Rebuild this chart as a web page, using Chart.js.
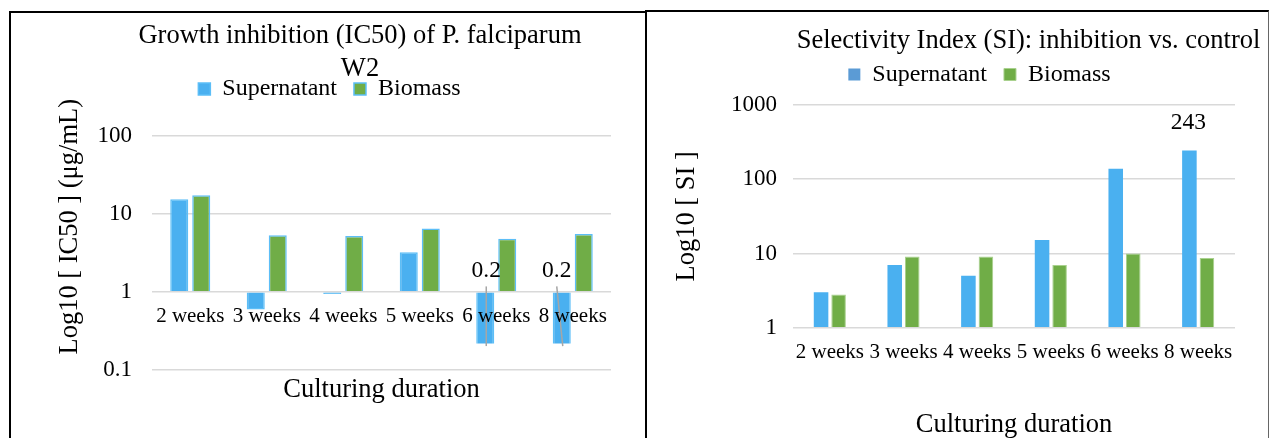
<!DOCTYPE html>
<html>
<head>
<meta charset="utf-8">
<title>IC50 and selectivity index by culturing duration</title>
<script src="https://cdn.jsdelivr.net/npm/chart.js@4.4.1/dist/chart.umd.min.js"></script>
<style>
  html, body { margin: 0; padding: 0; background: #fff; overflow: hidden; }
  .frame { position: absolute; box-sizing: border-box; }
  #leftFrame { left: 9px; top: 11px; width: 638px; height: 480px; border: 2px solid #000; }
  #rightFrame { left: 645px; top: 10px; width: 624px; height: 480px; border-top: 2px solid #000; border-left: 2px solid #000; border-right: 1px solid #666; }
  canvas { position: absolute; top: 0; }
  #ic50Chart { left: 11px; }
  #siChart { left: 648px; }
</style>
</head>
<body>
<div class="frame" id="leftFrame"></div>
<div class="frame" id="rightFrame"></div>
<canvas id="ic50Chart" width="635" height="470"></canvas>
<canvas id="siChart" width="619" height="470"></canvas>
<script>
const weeks = ['2 weeks', '3 weeks', '4 weeks', '5 weeks', '6 weeks', '8 weeks'];

// IC50 against P. falciparum W2, ug/mL
const ic50Supernatant = [15.4, 0.59, 0.93, 3.2, 0.2, 0.2];
const ic50Biomass = [17.3, 5.3, 5.2, 6.5, 4.8, 5.5];
const ic50Ticks = [0.1, 1, 10, 100];

// selectivity index (inhibition vs. control)
const siSupernatant = [3.0, 7.0, 5.0, 15.2, 138, 243];
const siBiomass = [2.8, 9.1, 9.1, 7.0, 10.0, 8.7];
const siTicks = [1, 10, 100, 1000];

const BLUE = '#4AB0F0';
const GREEN = '#70AD47';
const SERIF = "'Liberation Serif', 'Times New Roman', serif";

Chart.defaults.font.family = SERIF;
Chart.defaults.color = '#000';
Chart.defaults.animation = false;

// fixes the plot box: y axis width and top/bottom edge of the chart area
function pinPlot(width, top, bottom) {
  return scale => {
    scale.width = width;
    scale.paddingTop = top;
    scale.paddingBottom = scale.chart.height - bottom;
  };
}

// moves title / legend after layout, and the y axis title along its axis
const nudge = {
  id: 'nudge',
  afterLayout(chart, args, opts) {
    const move = (box, dx, dy) => {
      box.left += dx; box.right += dx;
      box.top += dy; box.bottom += dy;
    };
    if (opts.title) move(chart.titleBlock, opts.title[0], opts.title[1]);
    if (opts.legend) move(chart.legend, opts.legend[0], opts.legend[1]);
    if (opts.yTitle) move(chart.scales.y, 0, opts.yTitle);
  }
};

// value labels on a few bars, optionally with a leader line to the bar end
const barLabels = {
  id: 'barLabels',
  afterDatasetsDraw(chart, args, opts) {
    if (!opts.bars) return;
    const {ctx} = chart;
    const meta = chart.getDatasetMeta(opts.dataset);
    const values = chart.data.datasets[opts.dataset].data;
    ctx.save();
    ctx.font = '23.5px ' + SERIF;
    ctx.fillStyle = '#000';
    ctx.textAlign = 'center';
    ctx.textBaseline = 'middle';
    ctx.strokeStyle = '#A6A6A6';
    ctx.lineWidth = 1.5;
    opts.bars.forEach(([i, dx]) => {
      const bar = meta.data[i];
      const x = bar.x + dx;
      const y = (opts.fromBase ? bar.base : bar.y) - opts.gap;
      if (opts.leader) {
        ctx.beginPath();
        ctx.moveTo(x, y + 16);
        ctx.lineTo(bar.x + 1, bar.y);
        ctx.stroke();
      }
      ctx.fillText(String(values[i]), x, y);
    });
    ctx.restore();
  }
};

const legendLabels = { boxWidth: 12, boxHeight: 12, padding: 17, font: { size: 24 }, color: '#000' };
const gridStyle = { color: '#D9D9D9', lineWidth: 1.5, drawTicks: false };

new Chart(document.getElementById('ic50Chart'), {
  type: 'bar',
  data: {
    labels: weeks,
    datasets: [
      { label: 'Supernatant', data: ic50Supernatant, backgroundColor: BLUE, borderColor: '#5CBEF7', borderWidth: 1.5 },
      { label: 'Biomass', data: ic50Biomass, backgroundColor: GREEN, borderColor: '#5CBEF7', borderWidth: 1.5 }
    ]
  },
  options: {
    responsive: false,
    datasets: { bar: { base: 1, categoryPercentage: 0.575, barPercentage: 0.82 } },
    layout: { padding: { left: 0, right: 35, top: 0, bottom: 0 } },
    plugins: {
      title: {
        display: true,
        text: ['Growth inhibition (IC50) of P. falciparum', 'W2'],
        color: '#000',
        font: { size: 26.5, weight: 'normal', lineHeight: 1.25 },
        padding: { top: 17.4, bottom: -25.6 }
      },
      // x axis title, kept under the plot since the axis itself sits at 1
      subtitle: {
        display: true,
        position: 'bottom',
        fullSize: false,
        text: 'Culturing duration',
        color: '#000',
        font: { size: 26.5, lineHeight: 1.2 },
        padding: { top: 4.6, bottom: 0 }
      },
      legend: { labels: legendLabels },
      tooltip: { enabled: false },
      nudge: { title: [49, -25], legend: [18.5, -25], yTitle: -26 },
      barLabels: { dataset: 0, bars: [[4, 1], [5, -5]], fromBase: true, gap: 22, leader: true }
    },
    scales: {
      // category axis crosses the value axis at 1
      x: {
        position: { y: 1 },
        grid: { display: false, drawTicks: false },
        border: { display: false },
        ticks: { z: 1, padding: 12, maxRotation: 0, autoSkip: false, font: { size: 21 }, color: '#000' }
      },
      y: {
        type: 'logarithmic',
        min: 0.1,
        max: 100,
        afterBuildTicks: s => { s.ticks = ic50Ticks.map(value => ({ value })); },
        afterFit: pinPlot(141, 136, 369.5),
        grid: gridStyle,
        border: { display: false },
        ticks: { padding: 20, font: { size: 23 }, color: '#000', callback: v => String(v) },
        title: { display: true, text: 'Log10 [ IC50 ] (μg/mL)', color: '#000', font: { size: 26.5 }, padding: { top: 43, bottom: 0 } }
      }
    }
  },
  plugins: [nudge, barLabels]
});

new Chart(document.getElementById('siChart'), {
  type: 'bar',
  data: {
    labels: weeks,
    datasets: [
      { label: 'Supernatant', data: siSupernatant, backgroundColor: BLUE, borderWidth: 0 },
      { label: 'Biomass', data: siBiomass, backgroundColor: GREEN, borderColor: '#A9D18E', borderWidth: 1 }
    ]
  },
  options: {
    responsive: false,
    datasets: { bar: { base: 1, categoryPercentage: 0.476, barPercentage: 0.83 } },
    layout: { padding: { left: 0, right: 32, top: 0, bottom: 0 } },
    plugins: {
      title: {
        display: true,
        text: 'Selectivity Index (SI): inhibition vs. control',
        color: '#000',
        font: { size: 26.5, weight: 'normal', lineHeight: 1.25 },
        padding: { top: 23, bottom: -12.6 }
      },
      legend: {
        labels: Object.assign({}, legendLabels, {
          generateLabels(chart) {
            const items = Chart.defaults.plugins.legend.labels.generateLabels(chart);
            items[0].fillStyle = '#5B9BD5';
            return items;
          }
        })
      },
      tooltip: { enabled: false },
      nudge: { title: [87, -8.5], legend: [38, -8.5] },
      barLabels: { dataset: 0, bars: [[5, -1]], fromBase: false, gap: 28, leader: false }
    },
    scales: {
      x: {
        grid: { display: false, drawTicks: false },
        border: { display: false },
        ticks: { padding: 11.7, maxRotation: 0, autoSkip: false, font: { size: 21 }, color: '#000' },
        title: { display: true, text: 'Culturing duration', color: '#000', font: { size: 26.5 }, padding: { top: 32.8, bottom: 0 } }
      },
      y: {
        type: 'logarithmic',
        min: 1,
        max: 1000,
        afterBuildTicks: s => { s.ticks = siTicks.map(value => ({ value })); },
        afterFit: pinPlot(145, 105, 327.7),
        grid: gridStyle,
        border: { display: false },
        ticks: { padding: 16, font: { size: 23 }, color: '#000', callback: v => String(v) },
        title: { display: true, text: 'Log10 [ SI ]', color: '#000', font: { size: 26.5 }, padding: { top: 23, bottom: 0 } }
      }
    }
  },
  plugins: [nudge, barLabels]
});
</script>
</body>
</html>
